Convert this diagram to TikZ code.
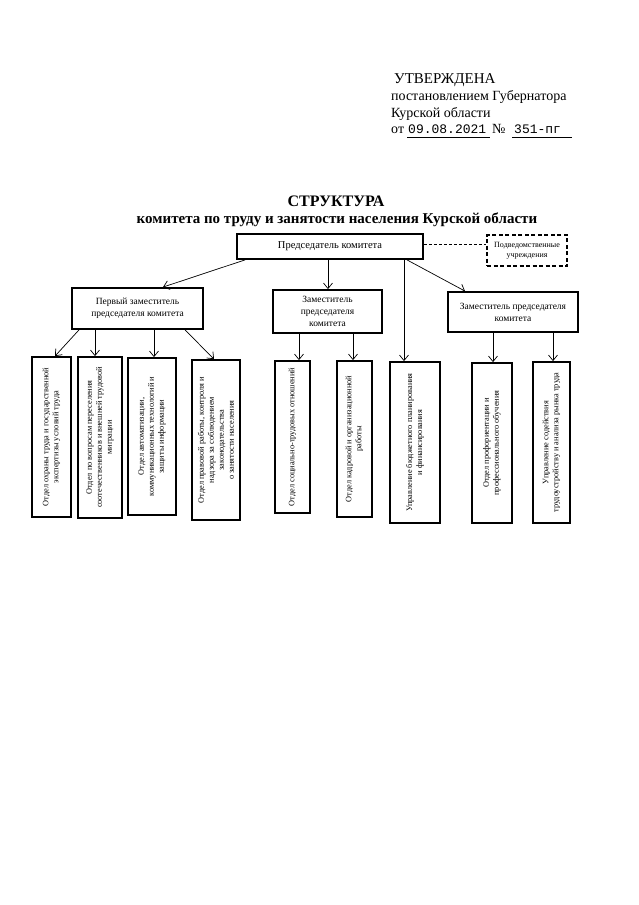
\documentclass[tikz,border=0pt]{standalone}
\usepackage{fontspec}
\setmainfont{Liberation Serif}
\setmonofont{Liberation Mono}
\usetikzlibrary{arrows.meta}
\begin{document}
\begin{tikzpicture}[x=1pt,y=-1pt,
  box/.style={draw, line width=1.8pt, inner sep=0pt, align=center},
  vtext/.style={rotate=90, align=center, inner sep=0pt, font=\fontsize{8.3}{10}\selectfont},
  arr/.style={line width=0.7pt, -{Straight Barb[length=5.5pt,width=9pt]}},
  hdr/.style={anchor=base west, inner sep=0pt, font=\fontsize{14}{16}\selectfont},
  ul/.style={line width=0.6pt}
]
\useasboundingbox (0,0) rectangle (639,905);
% header
\node[hdr, font=\fontsize{15}{16}\selectfont] (h1) at (394,83) {УТВЕРЖДЕНА};
\node[hdr] (h2) at (391,100) {постановлением Губернатора};
\node[hdr] (h3) at (391,117) {Курской области};
\node[hdr] (h4) at (391,133) {от};
\node[hdr, font=\fontsize{13}{16}\selectfont\ttfamily] (h5) at (408,133) {09.08.2021};
\node[hdr] (h6) at (492,133) {№};
\node[hdr, font=\fontsize{13}{16}\selectfont\ttfamily] (h7) at (514,133) {351-пг};
\draw[ul] (407,137) -- (490,137);
\draw[ul] (512,137) -- (572,137);
% title
\node[anchor=base, inner sep=0pt, font=\fontsize{16}{18}\selectfont\bfseries] (t1) at (336,206) {СТРУКТУРА};
\node[anchor=base, inner sep=0pt, font=\fontsize{15}{18}\selectfont\bfseries] (t2) at (337,223) {комитета по труду и занятости населения Курской области};
% main boxes
\node[box, minimum width=186pt, minimum height=25pt, font=\fontsize{10.5}{12}\selectfont] (chair) at (330,246.5) {Председатель комитета};
\node[box, dashed, dash pattern=on 4pt off 2.5pt, minimum width=80pt, minimum height=31pt, font=\fontsize{8}{10}\selectfont] (sub) at (527,250.5) {Подведомственные\\учреждения};
\node[box, minimum width=131pt, minimum height=41pt, font=\fontsize{9.5}{12}\selectfont] (dep1) at (137.5,308.5) {Первый заместитель\\председателя комитета};
\node[box, minimum width=109pt, minimum height=43pt, font=\fontsize{9.5}{12}\selectfont] (dep2) at (327.5,311.5) {Заместитель\\председателя\\комитета};
\node[box, minimum width=130pt, minimum height=40pt, font=\fontsize{9.5}{12}\selectfont] (dep3) at (513,312) {Заместитель председателя\\комитета};
% bottom boxes
\node[box, minimum width=39pt, minimum height=160pt] (b1) at (51.5,437) {};
\node[box, minimum width=44pt, minimum height=161pt] (b2) at (100,437.5) {};
\node[box, minimum width=48pt, minimum height=157pt] (b3) at (152,436.5) {};
\node[box, minimum width=48pt, minimum height=160pt] (b4) at (216,440) {};
\node[box, minimum width=35pt, minimum height=152pt] (b5) at (292.5,437) {};
\node[box, minimum width=35pt, minimum height=156pt] (b6) at (354.5,439) {};
\node[box, minimum width=50pt, minimum height=161pt] (b7) at (415,442.5) {};
\node[box, minimum width=40pt, minimum height=160pt] (b8) at (492,443) {};
\node[box, minimum width=37pt, minimum height=161pt] (b9) at (551.5,442.5) {};
\node[vtext] (v1) at (b1.center) {Отдел охраны труда и государственной\\экспертизы условий труда};
\node[vtext] (v2) at (b2.center) {Отдел по вопросам переселения\\соотечественников и внешней трудовой\\миграции};
\node[vtext] (v3) at (b3.center) {Отдел автоматизации,\\коммуникационных технологий и\\защиты информации};
\node[vtext] (v4) at (b4.center) {Отдел правовой работы, контроля и\\надзора за соблюдением\\законодательства\\о занятости населения};
\node[vtext] (v5) at (b5.center) {Отдел социально-трудовых отношений};
\node[vtext] (v6) at (b6.center) {Отдел кадровой и организационной\\работы};
\node[vtext] (v7) at (b7.center) {Управление бюджетного планирования\\и финансирования};
\node[vtext] (v8) at (b8.center) {Отдел профориентации и\\профессионального обучения};
\node[vtext] (v9) at (b9.center) {Управление содействия\\трудоустройству и анализа рынка труда};
% connectors from chairman
\draw[arr] ([xshift=-85pt]chair.south) -- ([xshift=25.5pt]dep1.north);
\draw[arr] ([xshift=-2pt]chair.south) -- ([xshift=-2pt]chair.south |- dep2.north);
\draw[arr] ([xshift=74pt]chair.south) -- ([xshift=74pt]chair.south |- b7.north);
\draw[arr] ([xshift=77pt]chair.south) -- ([xshift=-48pt]dep3.north);
\draw[line width=0.7pt, dashed, dash pattern=on 3pt off 2pt] ([yshift=2pt]chair.east) -- ([yshift=2pt]chair.east -| sub.west);
% deputy 1
\draw[arr] ([xshift=-58.5pt]dep1.south) -- ([xshift=3.5pt]b1.north);
\draw[arr] ([xshift=-42.5pt]dep1.south) -- ([xshift=-42.5pt]dep1.south |- b2.north);
\draw[arr] ([xshift=16.5pt]dep1.south) -- ([xshift=16.5pt]dep1.south |- b3.north);
\draw[arr] ([xshift=47.5pt]dep1.south) -- ([xshift=-2pt]b4.north);
% deputy 2
\draw[arr] ([xshift=-28.5pt]dep2.south) -- ([xshift=-28.5pt]dep2.south |- b5.north);
\draw[arr] ([xshift=25.5pt]dep2.south) -- ([xshift=25.5pt]dep2.south |- b6.north);
% deputy 3
\draw[arr] ([xshift=-20pt]dep3.south) -- ([xshift=-20pt]dep3.south |- b8.north);
\draw[arr] ([xshift=40pt]dep3.south) -- ([xshift=40pt]dep3.south |- b9.north);
\end{tikzpicture}
\end{document}
